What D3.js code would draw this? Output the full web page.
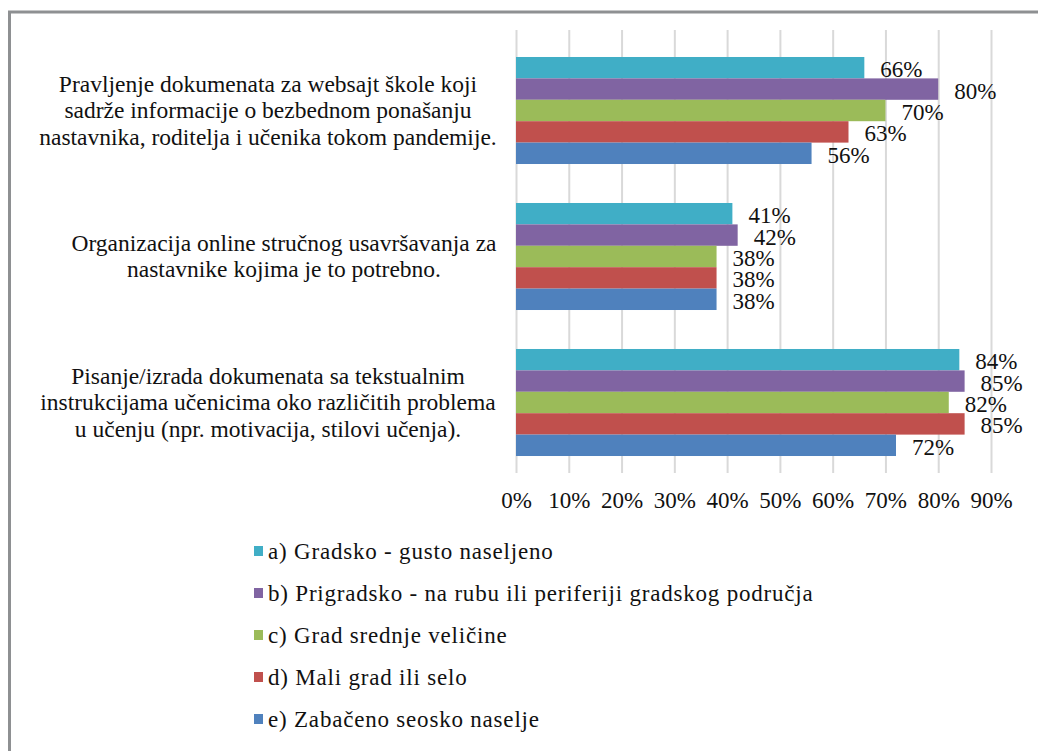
<!DOCTYPE html>
<html>
<head>
<meta charset="utf-8">
<script src="https://cdn.jsdelivr.net/npm/d3@7"></script>
<style>
    body { margin: 0; background: #fff; }
</style>
</head>
<body>
<svg width="1038" height="751"></svg>
<script>
    // kategorije (redovi teksta za svaku kategoriju)
    const categories = [
        ["Pravljenje dokumenata za websajt škole koji", "sadrže informacije o bezbednom ponašanju", "nastavnika, roditelja i učenika tokom pandemije."],
        ["Organizacija online stručnog usavršavanja za", "nastavnike kojima je to potrebno."],
        ["Pisanje/izrada dokumenata sa tekstualnim", "instrukcijama učenicima oko različitih problema", "u učenju (npr. motivacija, stilovi učenja)."]
    ];
    const seriesNames = [
        "a) Gradsko - gusto naseljeno",
        "b) Prigradsko - na rubu ili periferiji gradskog područja",
        "c) Grad srednje veličine",
        "d) Mali grad ili selo",
        "e) Zabačeno seosko naselje"
    ];
    const seriesColors = ["#40aec6", "#8064a2", "#9bbb59", "#c0504d", "#4f81bd"];
    // vrednosti po seriji (u procentima)
    const gradsko = [66, 41, 84];
    const prigradsko = [80, 42, 85];
    const gradSrednji = [70, 38, 82];
    const maliGrad = [63, 38, 85];
    const seosko = [56, 38, 72];
    const xTicks = [0, 10, 20, 30, 40, 50, 60, 70, 80, 90];

    const allSeries = [gradsko, prigradsko, gradSrednji, maliGrad, seosko];
    const FONT = "'Liberation Serif', 'DejaVu Serif', serif";

    let svg = d3.select("svg")
        .style("font-family", FONT);

    //okvir slike
    svg.append("path")
        .attr("d", "M9.5,760 V12 H1050")
        .attr("fill", "none")
        .attr("stroke", "#8e9092")
        .attr("stroke-width", 3);

    let x = d3.scaleLinear().domain([0, 90]).range([516, 991]);
    let y = d3.scaleBand()
        .domain(d3.range(categories.length))
        .range([37.5, 475.5])
        .paddingInner(0.267)
        .paddingOuter(0.1335);
    let ySub = d3.scaleBand()
        .domain(d3.range(seriesNames.length))
        .range([0, y.bandwidth()]);

    let gridTop = 30, gridBottom = 473;

    //mreža i oznake x ose
    let axis = svg.append("g")
        .attr("transform", "translate(0," + gridBottom + ")")
        .call(d3.axisBottom(x)
            .tickValues(xTicks)
            .tickSize(-(gridBottom - gridTop))
            .tickFormat(d => d + "%"));
    axis.attr("font-family", null).attr("font-size", null);
    axis.select(".domain").remove();
    axis.selectAll(".tick line").attr("stroke", "#d9d9d9").attr("stroke-width", 2);
    axis.selectAll(".tick text")
        .attr("y", 35)
        .attr("dy", null)
        .style("font-size", "23px")
        .style("font-family", FONT)
        .attr("fill", "#111");

    //stubići
    let groups = svg.append("g").selectAll("g")
        .data(categories)
        .enter()
        .append("g")
        .attr("transform", (d, i) => "translate(0," + y(i) + ")");

    groups.each(function (cat, ci) {
        let g = d3.select(this);
        allSeries.forEach((vals, si) => {
            g.append("rect")
                .attr("x", x(0))
                .attr("y", ySub(si))
                .attr("width", x(vals[ci]) - x(0))
                .attr("height", ySub.bandwidth())
                .attr("fill", seriesColors[si]);
            g.append("text")
                .attr("x", x(vals[ci]) + 16)
                .attr("y", ySub(si) + ySub.bandwidth() / 2 + 9.5)
                .style("font-family", FONT)
                .style("font-size", "23px")
                .attr("fill", "#111")
                .text(vals[ci] + "%");
        });
    });

    //nazivi kategorija
    let catCenters = [268, 284, 268];
    categories.forEach((lines, ci) => {
        let cy = y(ci) + y.bandwidth() / 2;
        let lh = 26.5;
        let t = svg.append("text")
            .attr("text-anchor", "middle")
            .style("font-family", FONT)
            .style("font-size", "23.5px")
            .attr("fill", "#111");
        lines.forEach((ln, li) => {
            t.append("tspan")
                .attr("x", catCenters[ci])
                .attr("y", cy + (li - (lines.length - 1) / 2) * lh + 7.5)
                .text(ln);
        });
    });

    //legenda
    let legend = svg.append("g");
    seriesNames.forEach((name, i) => {
        let ly = 551 + i * 42;
        legend.append("rect")
            .attr("x", 254)
            .attr("y", ly - 5)
            .attr("width", 9)
            .attr("height", 10)
            .attr("fill", seriesColors[i]);
        legend.append("text")
            .attr("x", 268)
            .attr("y", ly + 8)
            .style("font-family", FONT)
            .style("font-size", "23px")
            .style("letter-spacing", "0.8px")
            .attr("fill", "#111")
            .text(name);
    });
</script>
</body>
</html>
